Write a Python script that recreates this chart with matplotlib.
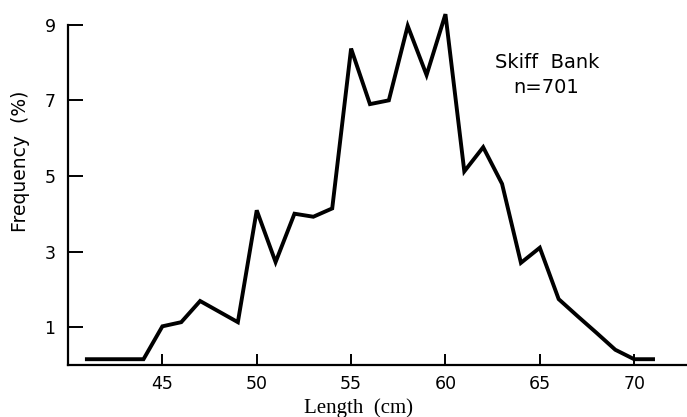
import matplotlib
matplotlib.use("Agg")
import matplotlib.pyplot as plt

# Length-frequency, Skiff Bank
length_cm = [41, 42, 43, 44, 45, 46, 47, 48, 49, 50,
             51, 52, 53, 54, 55, 56, 57, 58, 59, 60,
             61, 62, 63, 64, 65, 66, 67, 68, 69, 70, 71]
freq_pct = [0.15, 0.15, 0.15, 0.15, 1.02, 1.13, 1.69, 1.41, 1.13, 4.09,
            2.72, 4.0, 3.92, 4.14, 8.37, 6.9, 7.0, 8.97, 7.67, 9.28,
            5.12, 5.76, 4.79, 2.7, 3.1, 1.74, 1.29, 0.85, 0.4, 0.15, 0.15]
x_ticks = [45, 50, 55, 60, 65, 70]
y_ticks = [1, 3, 5, 7, 9]

fig = plt.figure(figsize=(6.87, 4.17), dpi=100)
ax = fig.add_axes([0.099, 0.125, 0.901, 0.87])

ax.plot(length_cm, freq_pct, color='black', linewidth=2.8,
        solid_joinstyle='miter', clip_on=False)

ax.set_xlim(40, 72.8)
ax.set_ylim(0, 9.6)
ax.spines['top'].set_visible(False)
ax.spines['right'].set_visible(False)
ax.spines['left'].set_bounds(0, 9)
for s in ('left', 'bottom'):
    ax.spines[s].set_linewidth(1.6)

ax.set_xticks(x_ticks)
ax.set_yticks(y_ticks)
ax.tick_params(axis='x', direction='in', length=8, width=1.4, labelsize=12.5, pad=7)
ax.tick_params(axis='y', direction='in', length=11, width=1.4, labelsize=12.5, pad=9)

ax.set_xlabel('Length  (cm)', fontsize=15, family='Liberation Serif')
ax.xaxis.set_label_coords(0.469, -0.092)
ax.set_ylabel('Frequency  (%)', fontsize=13.5)
ax.yaxis.set_label_coords(-0.062, 0.56)

ax.text(65.4, 8.0, 'Skiff  Bank', fontsize=14, ha='center', va='center')
ax.text(65.35, 7.34, 'n=701', fontsize=14, ha='center', va='center')

fig.savefig('out.png', dpi=100)
